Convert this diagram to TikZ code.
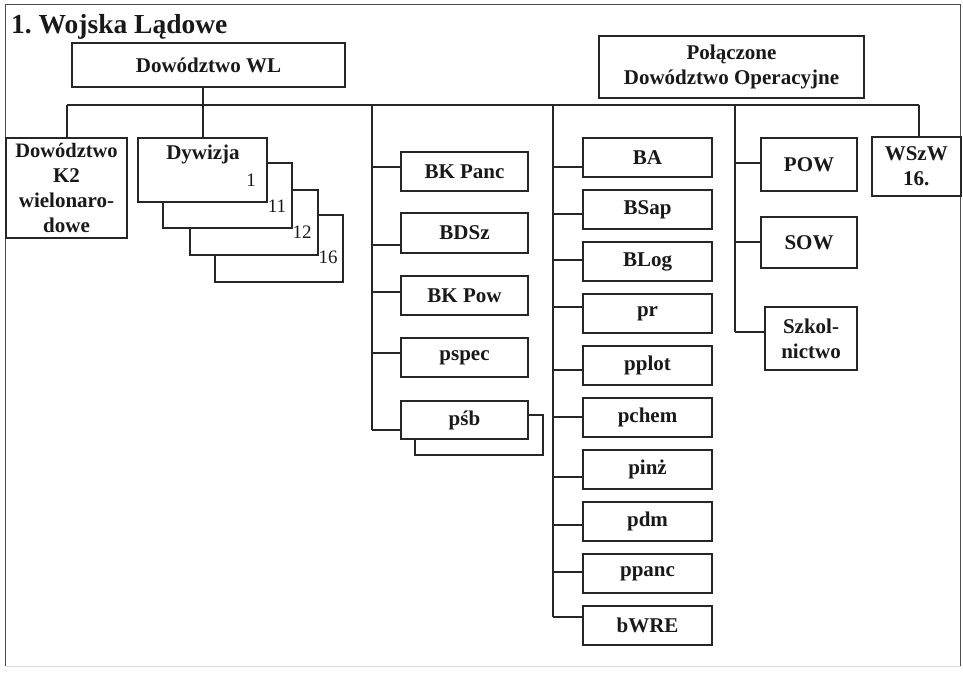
\documentclass[tikz,border=0pt]{standalone}
\usepackage{fontspec}
\setmainfont{Liberation Serif}
\frenchspacing
\newcommand\mybox[6]{\node[bx, minimum width={#4-#2}, minimum height={#5-#3}] (#1) at ({(#2+#4)/2},{(#3+#5)/2}) {#6};}
\begin{document}
\begin{tikzpicture}[x=1pt,y=-1pt,
  ln/.style={line width=1.8pt, draw=black!85},
  frame/.style={line width=1.6pt, draw=black!70},
  bx/.style={draw=black!85, line width=2pt, fill=white, inner sep=0pt, text=black!90,
    font=\fontsize{21}{25}\selectfont\bfseries, align=center},
  num/.style={font=\fontsize{19}{19}\selectfont, inner sep=0pt, text=black!90}]
\useasboundingbox (0,0) rectangle (963,672);
% frame
\draw[frame] (5.5,666) -- (5.5,4.5) -- (960.5,4.5) -- (960.5,666);
\draw[line width=1pt, draw=black!15] (5.5,666) -- (960.5,666);
% title
\node[anchor=base west, inner sep=0pt, text=black!90, font=\fontsize{27.5}{27.5}\selectfont\bfseries] (title) at (11,33) {1. Wojska Lądowe};
% top boxes
\mybox{wl}{72}{43}{345}{87}{Dowództwo WL}
\mybox{pdo}{599}{36}{864}{98}{Połączone\\Dowództwo Operacyjne}
% bus
\coordinate (busL) at (67,105);
\coordinate (busR) at (919,105);
\coordinate (tB) at (372,105);
\coordinate (tC) at (553,105);
\coordinate (tD) at (735,105);
\coordinate (tA) at (203,87);
\draw[ln] (busL) -- (busR);
\draw[ln] (busL) -- (67,138);
\draw[ln] (busR) -- (919,137);
\draw[ln] (tB) -- (372,430);
\draw[ln] (tC) -- (553,617);
\draw[ln] (tD) -- (735,332);
% column A
\mybox{k2}{6}{138}{127}{238}{\fontsize{20.5}{21}\selectfont Dowództwo\\K2\\wielonaro-\\dowe}
\mybox{d4}{215}{215}{343}{282}{}
\mybox{d3}{190}{190}{318}{255}{}
\mybox{d2}{163}{163}{292}{228}{}
\mybox{d1}{138}{138}{267}{202}{}
\draw[ln] (tA) -- (tA |- d1.north);
\node[bx, draw=none, fill=none] (dyw) at (203,154) {Dywizja};
\node[num] (n1) at (251,180) {1};
\node[num] (n11) at (277,206) {11};
\node[num] (n12) at (302,232) {12};
\node[num] (n16) at (328,257) {16};
% column B
\mybox{bkpanc}{401}{152}{528}{191}{BK Panc}
\mybox{bdsz}{401}{213}{528}{253}{BDSz}
\mybox{bkpow}{401}{276}{528}{315}{BK Pow}
\mybox{pspec}{401}{338}{528}{377}{pspec}
\mybox{psbs}{415}{415}{543}{455}{}
\mybox{psb}{401}{401}{528}{439}{pśb}
\draw[ln] (tB |- 0,167) -- (bkpanc.west |- 0,167);
\draw[ln] (tB |- 0,245) -- (bdsz.west |- 0,245);
\draw[ln] (tB |- 0,292) -- (bkpow.west |- 0,292);
\draw[ln] (tB |- 0,353) -- (pspec.west |- 0,353);
\draw[ln] (tB |- 0,430) -- (psb.west |- 0,430);
% column C
\mybox{ba}{583}{138}{712}{177}{BA}
\mybox{bsap}{583}{190}{712}{229}{BSap}
\mybox{blog}{583}{242}{712}{281}{BLog}
\mybox{pr}{583}{294}{712}{333}{pr}
\mybox{pplot}{583}{346}{712}{385}{pplot}
\mybox{pchem}{583}{398}{712}{437}{pchem}
\mybox{pinz}{583}{450}{712}{489}{pinż}
\mybox{pdm}{583}{502}{712}{541}{pdm}
\mybox{ppanc}{583}{554}{712}{593}{ppanc}
\mybox{bwre}{583}{606}{712}{645}{bWRE}
\draw[ln] (tC |- 0,167) -- (ba.west |- 0,167);
\draw[ln] (tC |- 0,214) -- (bsap.west |- 0,214);
\draw[ln] (tC |- 0,260) -- (blog.west |- 0,260);
\draw[ln] (tC |- 0,307) -- (pr.west |- 0,307);
\draw[ln] (tC |- 0,370) -- (pplot.west |- 0,370);
\draw[ln] (tC |- 0,417) -- (pchem.west |- 0,417);
\draw[ln] (tC |- 0,477) -- (pinz.west |- 0,477);
\draw[ln] (tC |- 0,525) -- (pdm.west |- 0,525);
\draw[ln] (tC |- 0,572) -- (ppanc.west |- 0,572);
\draw[ln] (tC |- 0,617) -- (bwre.west |- 0,617);
% column D
\mybox{pow}{761}{138}{857}{191}{POW}
\mybox{sow}{761}{217}{857}{268}{SOW}
\mybox{szk}{765}{307}{857}{370}{Szkol-\\nictwo}
\mybox{wszw}{872}{137}{960.5}{196}{WSzW\\16.}
\draw[ln] (tD |- 0,163) -- (pow.west |- 0,163);
\draw[ln] (tD |- 0,242) -- (sow.west |- 0,242);
\draw[ln] (tD |- 0,332) -- (szk.west |- 0,332);
\end{tikzpicture}
\end{document}
